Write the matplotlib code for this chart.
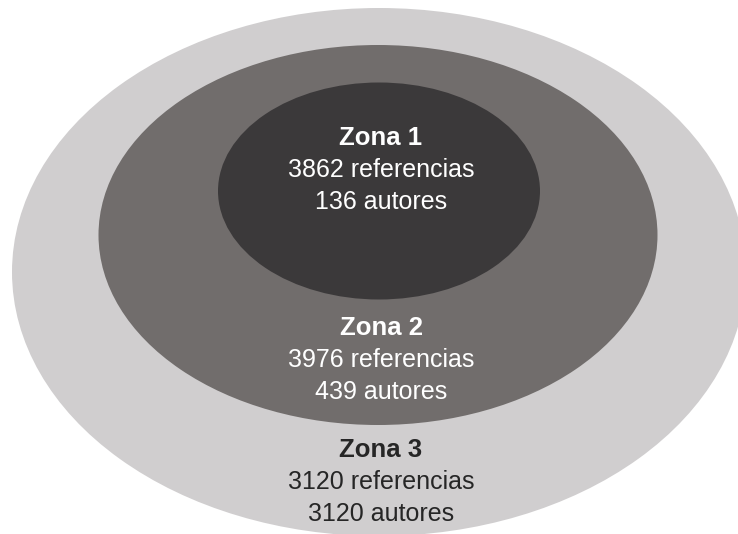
import matplotlib
matplotlib.use("Agg")
import matplotlib.pyplot as plt
from matplotlib.patches import Ellipse

# Data
zonas = ["Zona 1", "Zona 2", "Zona 3"]
referencias = [3862, 3976, 3120]
autores = [136, 439, 3120]

# Styling / geometry (pixel coordinates of the 738x534 canvas)
fill_colors = ["#3b393a", "#716d6c", "#d0cecf"]
text_colors = ["#ffffff", "#ffffff", "#262626"]
# (cx, cy, width, height) per zone
ellipses = [(379, 191, 322, 217), (378, 235, 559, 380), (379, 272, 734, 528)]
baselines = [(145, 177, 209), (335, 367, 399), (457, 489, 521)]
text_x = 381

plt.rcParams['font.family'] = ['Liberation Sans', 'DejaVu Sans']

fig = plt.figure(figsize=(7.38, 5.34), dpi=100)
ax = fig.add_axes([0, 0, 1, 1])
ax.set_xlim(0, 738)
ax.set_ylim(534, 0)
ax.axis('off')

# draw outer to inner
for i in reversed(range(len(zonas))):
    cx, cy, w, h = ellipses[i]
    ax.add_patch(Ellipse((cx, cy), w, h, facecolor=fill_colors[i], edgecolor='none'))

for i, z in enumerate(zonas):
    b0, b1, b2 = baselines[i]
    ax.text(text_x, b0, z, ha='center', va='baseline', fontsize=18.5,
            fontweight='bold', color=text_colors[i])
    ax.text(text_x, b1, f"{referencias[i]} referencias", ha='center', va='baseline',
            fontsize=18, color=text_colors[i])
    ax.text(text_x, b2, f"{autores[i]} autores", ha='center', va='baseline',
            fontsize=18, color=text_colors[i])

fig.savefig("out.png", dpi=100, facecolor='white')
